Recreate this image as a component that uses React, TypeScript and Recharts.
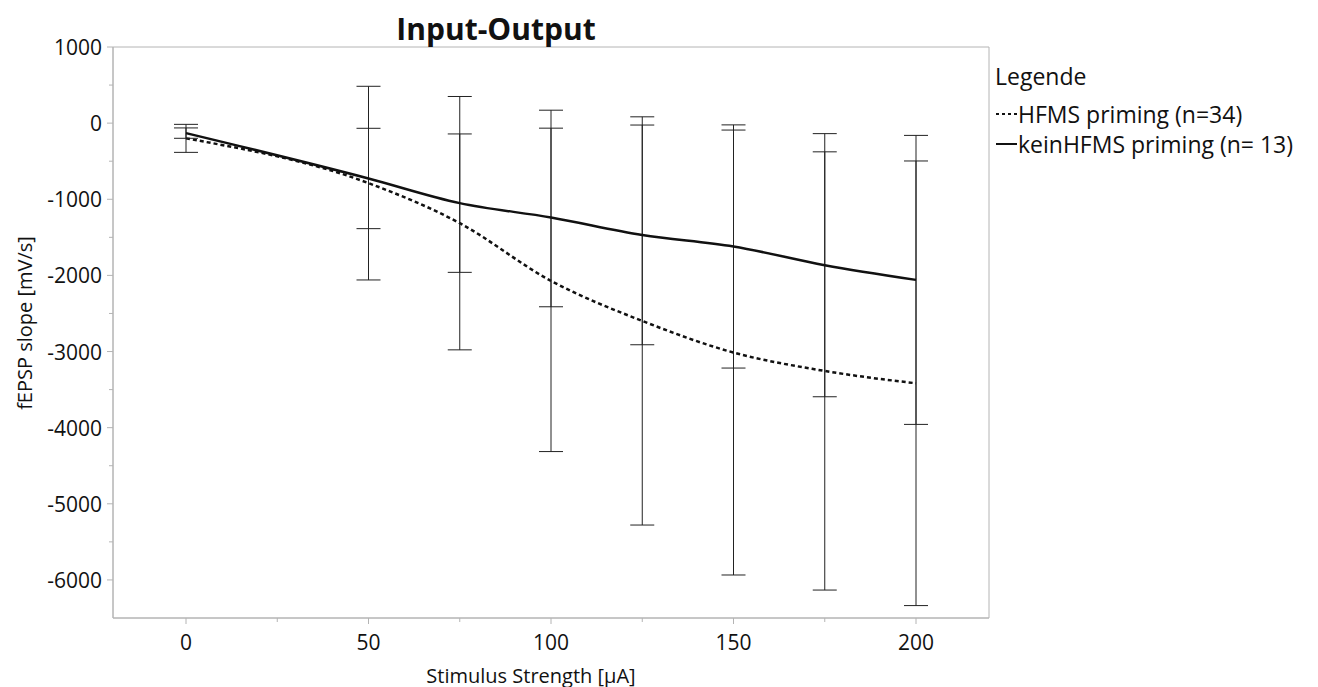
import { ErrorBar, Line, LineChart, ReferenceArea, XAxis, YAxis } from "recharts"

// Stimulus strength in µA
const stimulus = [0, 50, 75, 100, 125, 150, 175, 200]

// HFMS priming (n=34): mean and SD of fEPSP slope
const hfmsMean = [-200, -788, -1314, -2072, -2598, -3013, -3255, -3417]
const hfmsSd = [184, 1272, 1664, 2242, 2681, 2922, 2878, 2920]

// kein HFMS priming (n=13)
const keinMean = [-131, -727, -1051, -1239, -1468, -1620, -1866, -2059]
const keinSd = [68, 659, 909, 1173, 1443, 1597, 1728, 1898]

const xTicks = [0, 25, 50, 75, 100, 125, 150, 175, 200]
const yTicks = [
  -6000, -5500, -5000, -4500, -4000, -3500, -3000, -2500, -2000, -1500, -1000, -500, 0, 500, 1000,
]

const rows = stimulus.map((s, i) => ({
  stimulus: s,
  hfms: hfmsMean[i],
  hfmsSd: hfmsSd[i],
  kein: keinMean[i],
  keinSd: keinSd[i],
}))

const FONT = "'Open Sans', 'Noto Sans', sans-serif"
const AXIS = "#b4b4b4"
const INK = "#111111"

function YTick({ x, y, payload }: any) {
  const major = payload.value % 1000 === 0
  return (
    <g>
      <line x1={x - (major ? 6 : 4)} x2={x} y1={y} y2={y} stroke={AXIS} strokeWidth={1} />
      {major && (
        <text x={x - 11} y={y} textAnchor="end" dominantBaseline="central" fontSize={21} fontFamily={FONT} fill={INK}>
          {payload.value}
        </text>
      )}
    </g>
  )
}

function XTick({ x, y, payload }: any) {
  const major = payload.value % 50 === 0
  return (
    <g>
      <line x1={x} x2={x} y1={y} y2={y + (major ? 6 : 4)} stroke={AXIS} strokeWidth={1} />
      {major && (
        <text x={x} y={y + 24} textAnchor="middle" dominantBaseline="central" fontSize={21} fontFamily={FONT} fill={INK}>
          {payload.value}
        </text>
      )}
    </g>
  )
}

export default function App() {
  return (
    <div style={{ position: "absolute", left: 0, top: 0, width: 1318, height: 687, background: "#fff", fontFamily: FONT, color: INK }}>
      <LineChart width={1318} height={687} data={rows} margin={{ top: 47, right: 329, bottom: 0, left: 0 }}>
        <XAxis
          dataKey="stimulus"
          type="number"
          domain={[-20, 220]}
          ticks={xTicks}
          interval={0}
          height={69}
          tickSize={0}
          tickMargin={0}
          tickLine={false}
          axisLine={{ stroke: AXIS }}
          tick={<XTick />}
        />
        <YAxis
          type="number"
          domain={[-6500, 1000]}
          ticks={yTicks}
          interval={0}
          width={113}
          tickSize={0}
          tickMargin={0}
          tickLine={false}
          axisLine={{ stroke: AXIS }}
          tick={<YTick />}
        />
        <ReferenceArea x1={-20} x2={220} y1={-6500} y2={1000} fill="none" stroke={AXIS} strokeWidth={1} />
        <Line
          dataKey="hfms"
          type="monotone"
          stroke={INK}
          strokeWidth={2.5}
          strokeDasharray="4 3"
          dot={false}
          activeDot={false}
          isAnimationActive={false}
        >
          <ErrorBar dataKey="hfmsSd" width={12} stroke="#222" strokeWidth={1} direction="y" isAnimationActive={false} />
        </Line>
        <Line
          dataKey="kein"
          type="monotone"
          stroke={INK}
          strokeWidth={2.5}
          dot={false}
          activeDot={false}
          isAnimationActive={false}
        >
          <ErrorBar dataKey="keinSd" width={12} stroke="#222" strokeWidth={1} direction="y" isAnimationActive={false} />
        </Line>
      </LineChart>

      <div style={{ position: "absolute", left: 496, top: 28, transform: "translate(-50%, -50%)", fontSize: 30, fontWeight: 700, whiteSpace: "nowrap" }}>
        Input-Output
      </div>
      <div style={{ position: "absolute", left: 24, top: 323, transform: "translate(-50%, -50%) rotate(-90deg)", fontSize: 20, whiteSpace: "nowrap" }}>
        fEPSP slope [mV/s]
      </div>
      <div style={{ position: "absolute", left: 531, top: 675, transform: "translate(-50%, -50%)", fontSize: 20, whiteSpace: "nowrap" }}>
        Stimulus Strength [μA]
      </div>

      <div style={{ position: "absolute", left: 995, top: 61, fontSize: 23, lineHeight: "30px", whiteSpace: "nowrap" }}>
        <div>Legende</div>
        <div style={{ display: "flex", alignItems: "center", marginTop: 8 }}>
          <svg width={22} height={10} style={{ marginRight: 1 }}>
            <line x1={1} x2={22} y1={5} y2={5} stroke={INK} strokeWidth={2} strokeDasharray="3 3" />
          </svg>
          <span>HFMS priming (n=34)</span>
        </div>
        <div style={{ display: "flex", alignItems: "center" }}>
          <svg width={22} height={10} style={{ marginRight: 1 }}>
            <line x1={1} x2={22} y1={5} y2={5} stroke={INK} strokeWidth={2} />
          </svg>
          <span>keinHFMS priming (n= 13)</span>
        </div>
      </div>
    </div>
  )
}
